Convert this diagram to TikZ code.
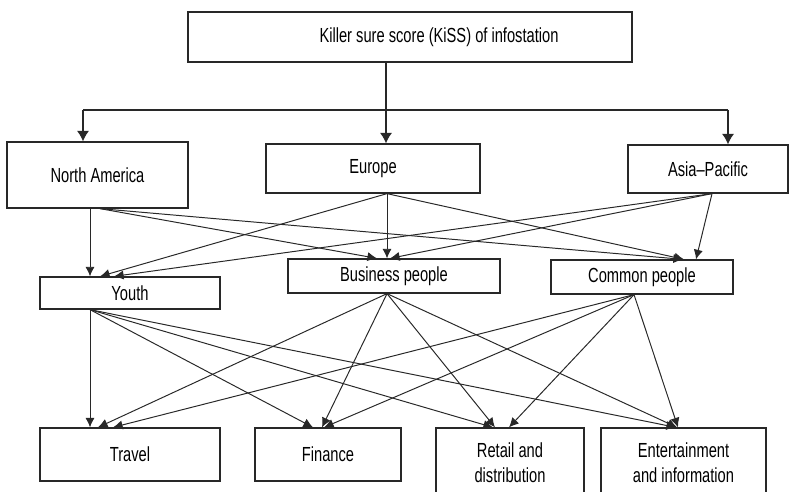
\documentclass[tikz,border=0pt]{standalone}
\usepackage{fontspec}
\setmainfont{Liberation Sans}[FakeStretch=0.72]
\usepackage{xcolor}
\usepackage{tikz}
\usetikzlibrary{arrows.meta, positioning, calc}
\definecolor{lineGray}{RGB}{40, 40, 40}
\tikzset{
  kissbox/.style={
    rectangle,
    draw=lineGray, line width=0.9pt,
    fill=white,
    align=center,
    inner sep=0pt,
    font=\fontsize{14.5}{18}\selectfont
  },
  bigarrow/.style={
    -{Latex[length=2.6mm,width=3mm]},
    line width=0.9pt, color=lineGray
  },
  arrow/.style={
    -{Latex[length=2.4mm,width=2.3mm]},
    line width=0.7pt, color=lineGray
  }
}

\begin{document}
\begin{tikzpicture}[x=0.25mm, y=-0.25mm]

  \clip (0,0) rectangle (789,492);

  % ── Top box ───────────────────────────────────────────────────────────────
  \node[kissbox, minimum width=111mm, minimum height=12.5mm] (kiss) at (410,37)
    {\hspace*{14.5mm}Killer sure score (KiSS) of infostation};

  % ── Regions ───────────────────────────────────────────────────────────────
  \node[kissbox, minimum width=45.25mm, minimum height=16.5mm] (namerica) at (97.5,175) {North America};
  \node[kissbox, minimum width=53.5mm, minimum height=12.25mm] (europe) at (373,168.5) {Europe};
  \node[kissbox, minimum width=40mm, minimum height=12mm] (asiapac) at (708,169) {Asia--Pacific};

  % ── User groups ───────────────────────────────────────────────────────────
  \node[kissbox, minimum width=45mm, minimum height=8mm] (youth) at (130,293) {Youth};
  \node[kissbox, minimum width=53mm, minimum height=8.5mm] (business) at (394,276) {Business people};
  \node[kissbox, minimum width=45.5mm, minimum height=8.5mm] (common) at (642,277) {Common people};

  % ── Services ──────────────────────────────────────────────────────────────
  \node[kissbox, minimum width=45mm, minimum height=13.25mm] (travel) at (130,454.5) {Travel};
  \node[kissbox, minimum width=36.5mm, minimum height=13.25mm] (finance) at (328,454.5) {Finance};
  \node[kissbox, minimum width=37mm, minimum height=17.5mm] (retail) at (510,463) {Retail and\\distribution};
  \node[kissbox, minimum width=41.25mm, minimum height=17.5mm] (entertain) at (683.5,463) {Entertainment\\and information};

  % ── Top split ─────────────────────────────────────────────────────────────
  \coordinate (split) at (386,110);
  \coordinate (splitleft) at (83,110);
  \coordinate (splitright) at (728,110);
  \draw[bigarrow] (kiss.south -| split) -- (europe.north -| split);
  \draw[lineGray, line width=0.9pt] (splitleft) -- (splitright);
  \draw[bigarrow] (splitleft) -- (splitleft |- namerica.north);
  \draw[bigarrow] (splitright) -- (splitright |- asiapac.north);

  % ── Regions to user groups ────────────────────────────────────────────────
  \draw[arrow] ($(namerica.south)+(-7.5,0)$) -- ($(youth.north)+(-40,0)$);
  \draw[arrow] ($(namerica.south)+(2.5,0)$) -- ($(business.north)+(-17,0)$);
  \draw[arrow] ($(namerica.south)+(2.5,0)$) -- ($(common.north)+(41,0)$);

  \draw[arrow] ($(europe.south)+(14,0)$) -- ($(youth.north)+(-30,0)$);
  \draw[arrow] ($(europe.south)+(14,0)$) -- ($(business.north)+(-7,0)$);
  \draw[arrow] ($(europe.south)+(14,0)$) -- ($(common.north)+(42,0)$);

  \draw[arrow] ($(asiapac.south)+(4,0)$) -- ($(youth.north)+(-16,0)$);
  \draw[arrow] ($(asiapac.south)+(4,0)$) -- ($(business.north)+(-4,0)$);
  \draw[arrow] ($(asiapac.south)+(4,0)$) -- ($(common.north)+(54,0)$);

  % ── User groups to services ───────────────────────────────────────────────
  \draw[arrow] ($(youth.south)+(-40,0)$) -- ($(travel.north)+(-40,0)$);
  \draw[arrow] ($(youth.south)+(-40,0)$) -- ($(finance.north)+(-15,0)$);
  \draw[arrow] ($(youth.south)+(-40,0)$) -- ($(retail.north)+(-17,0)$);
  \draw[arrow] ($(youth.south)+(-40,0)$) -- ($(entertain.north)+(-7.5,0)$);

  \draw[arrow] ($(business.south)+(-7,0)$) -- ($(travel.north)+(-32,0)$);
  \draw[arrow] ($(business.south)+(-7,0)$) -- ($(finance.north)+(-6,0)$);
  \draw[arrow] ($(business.south)+(-7,0)$) -- ($(retail.north)+(-15,0)$);
  \draw[arrow] ($(business.south)+(-7,0)$) -- ($(entertain.north)+(-6.5,0)$);

  \draw[arrow] ($(common.south)+(-8,0)$) -- ($(travel.north)+(-17,0)$);
  \draw[arrow] ($(common.south)+(-8,0)$) -- ($(finance.north)+(-4,0)$);
  \draw[arrow] ($(common.south)+(-8,0)$) -- ($(retail.north)+(-1,0)$);
  \draw[arrow] ($(common.south)+(-8,0)$) -- ($(entertain.north)+(-5.5,0)$);

\end{tikzpicture}
\end{document}
